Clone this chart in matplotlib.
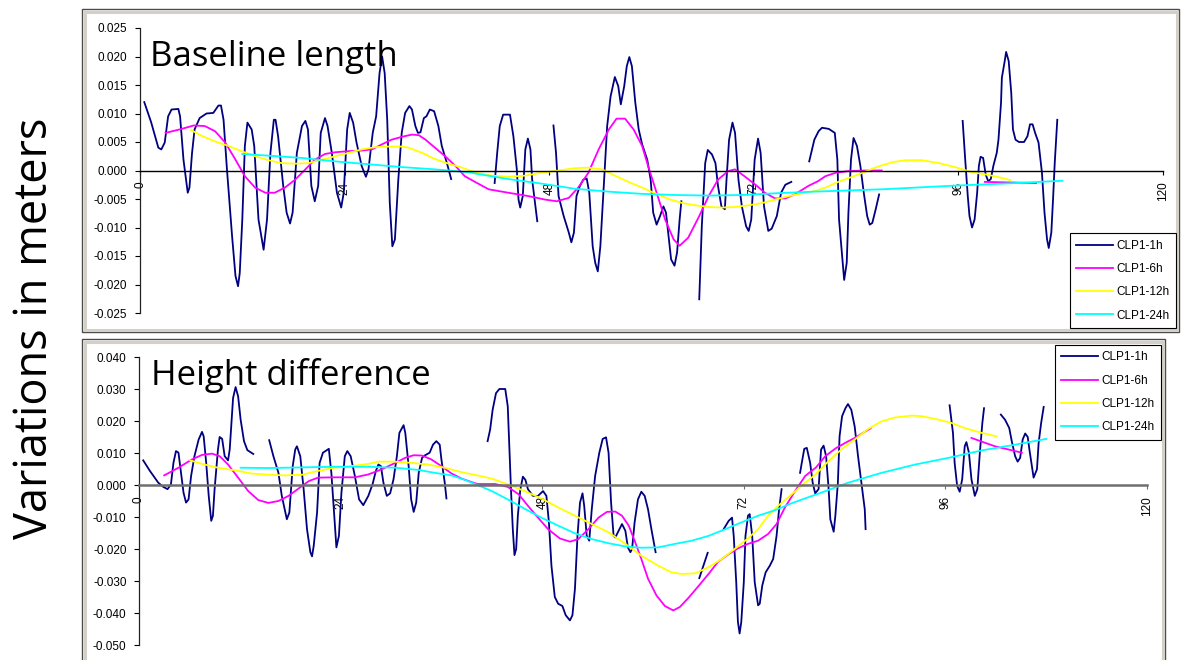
import numpy as np
import matplotlib
matplotlib.use("Agg")
import matplotlib.pyplot as plt
from matplotlib.patches import Rectangle
from matplotlib.ticker import FormatStrFormatter

# ----------------------------------------------------
# settings
# ----------------------------------------------------
W, H = 1182, 660
GAP = (np.nan, np.nan)   # break in a series (no data)

HOUR_TICKS = [0, 24, 48, 72, 96, 120]
SERIES_NAMES = ["CLP1-1h", "CLP1-6h", "CLP1-12h", "CLP1-24h"]
SERIES_COLORS = ["#000080", "#ff00ff", "#ffff00", "#00ffff"]

BL_YTICKS = [-0.025, -0.020, -0.015, -0.010, -0.005, 0.000, 0.005, 0.010, 0.015, 0.020, 0.025]
HD_YTICKS = [-0.050, -0.040, -0.030, -0.020, -0.010, 0.000, 0.010, 0.020, 0.030, 0.040]

# ----------------------------------------------------
# baseline length (hour, metres)
# ----------------------------------------------------
BL_1H = [
    (0.5, .0120), (1.3, .0085), (2.15, .0040), (2.5, .0037), (2.9, .0049), (3.3, .0095), (3.7, .0107),
    (4.5, .0108), (4.7, .0095), (5.1, .0019), (5.6, -.0039), (5.8, -.0030), (6.1, .0030), (6.4, .0072),
    (7.0, .0092), (7.8, .0100), (8.6, .0101), (9.2, .0114), (9.5, .0114), (9.8, .0089), (10.2, .0002),
    (10.8, -.0115), (11.2, -.0185), (11.5, -.0203), (11.7, -.0180), (12.0, -.0086), (12.3, .0043),
    (12.6, .0084), (13.1, .0072), (13.4, .0043), (13.9, -.0086), (14.5, -.0139), (14.9, -.0086),
    (15.3, .0031), (15.7, .0089), (15.9, .0089), (16.2, .0060), (16.8, -.0027), (17.2, -.0074),
    (17.6, -.0093), (17.9, -.0074), (18.4, .0031), (19.0, .0078), (19.4, .0087), (19.7, .0072),
    (20.1, -.0027), (20.5, -.0054), (20.9, -.0027), (21.2, .0066), (21.7, .0092), (22.0, .0078),
    (22.5, .0031), (23.1, -.0039), (23.6, -.0065), (23.9, -.0039), (24.3, .0072), (24.6, .0101),
    (25.0, .0084), (25.4, .0049), (26.0, .0008), (26.5, -.0011), (26.8, .0002), (27.3, .0066),
    (27.7, .0095), (28.1, .0171), (28.4, .0200), (28.7, .0171), (29.0, .0089), (29.3, -.0057),
    (29.6, -.0133), (29.9, -.0121), (30.3, -.0016), (30.7, .0066), (31.1, .0101), (31.6, .0113),
    (31.9, .0107), (32.3, .0078), (32.6, .0066), (32.9, .0067), (33.3, .0092), (33.6, .0095),
    (34.0, .0107), (34.5, .0104), (35.0, .0078), (35.4, .0043), (36.0, .0013), (36.5, -.0015),
    GAP,
    (41.6, -.0022), (41.9, .0031), (42.2, .0078), (42.6, .0098), (43.4, .0098), (43.8, .0060),
    (44.2, .0002), (44.4, -.0051), (44.6, -.0065), (44.9, -.0045), (45.2, .0037), (45.5, .0056),
    (45.8, .0037), (46.0, -.0016), (46.6, -.0089),
    GAP,
    (48.5, .0079), (48.8, .0031), (49.1, -.0045), (49.7, -.0080), (50.3, -.0109), (50.6, -.0126),
    (50.9, -.0109), (51.2, -.0045), (51.6, -.0027), (52.0, -.0016), (52.4, -.0014), (52.7, -.0039),
    (53.1, -.0133), (53.4, -.0162), (53.7, -.0177), (54.0, -.0133), (54.4, -.0027), (54.8, .0078),
    (55.2, .0130), (55.7, .0164), (56.1, .0148), (56.4, .0116), (56.8, .0148), (57.1, .0183),
    (57.4, .0199), (57.7, .0183), (58.1, .0119), (58.5, .0072), (58.9, .0046), (59.5, .0019),
    (59.9, -.0016), (60.2, -.0074), (60.6, -.0095), (61.0, -.0080), (61.4, -.0063), (61.7, -.0074),
    (62.0, -.0115), (62.3, -.0156), (62.7, -.0167), (63.0, -.0144), (63.3, -.0086), (63.5, -.0054),
    GAP,
    (65.6, -.0226), (65.9, -.0098), (66.3, .0013), (66.6, .0036), (67.1, .0028), (67.5, .0013),
    (67.8, -.0027), (68.2, -.0063), (68.6, -.0068), (68.8, -.0016), (69.1, .0054), (69.5, .0084),
    (69.8, .0066), (70.2, -.0016), (70.6, -.0063), (71.1, -.0098), (71.4, -.0106), (71.7, -.0086),
    (72.1, .0019), (72.5, .0056), (72.8, .0031), (73.2, -.0063), (73.7, -.0106), (74.1, -.0102),
    (74.7, -.0080), (75.2, -.0039), (75.7, -.0025), (76.4, -.0020),
    GAP,
    (78.5, .0016), (79.1, .0054), (79.6, .0069), (80.0, .0075), (80.8, .0073), (81.5, .0066),
    (81.8, .0019), (82.0, -.0086), (82.4, -.0156), (82.6, -.0192), (82.9, -.0162), (83.1, -.0074),
    (83.4, .0019), (83.7, .0057), (84.1, .0043), (84.5, .0008), (84.9, -.0039), (85.3, -.0080),
    (85.6, -.0095), (85.9, -.0092), (86.3, -.0068), (86.7, -.0042),
    GAP,
    (96.5, .0087), (96.8, .0019), (97.1, -.0045), (97.3, -.0080), (97.6, -.0100), (97.9, -.0086),
    (98.2, -.0039), (98.4, .0008), (98.6, .0024), (98.9, .0022), (99.2, -.0007), (99.5, -.0019),
    (99.8, -.0015), (100.1, .0008), (100.5, .0031), (100.7, .0054), (101.0, .0119), (101.1, .0163),
    (101.4, .0189), (101.6, .0208), (101.9, .0192), (102.2, .0136), (102.4, .0072), (102.7, .0054),
    (103.1, .0050), (103.7, .0050), (104.1, .0060), (104.4, .0081), (104.7, .0081), (105.0, .0066),
    (105.4, .0049), (105.8, -.0004), (106.1, -.0074), (106.4, -.0121), (106.6, -.0136),
    (106.9, -.0109), (107.1, -.0051), (107.3, .0013), (107.6, .0089),
]

BL_6H = [
    (3.0, .0066), (4.9, .0073), (6.3, .0079), (7.6, .0078), (8.8, .0069), (10.0, .0049), (11.2, .0019),
    (12.3, -.0010), (13.5, -.0030), (14.7, -.0039), (15.8, -.0039), (17.0, -.0030), (18.2, -.0016),
    (19.4, .0002), (20.5, .0019), (21.7, .0029), (22.9, .0032), (24.5, .0034), (26.0, .0035),
    (27.2, .0037), (28.4, .0046), (29.5, .0054), (30.7, .0059), (31.9, .0063), (32.7, .0062),
    (33.5, .0054), (34.6, .0040), (35.8, .0025), (37.0, .0008), (38.1, -.0010), (39.3, -.0020),
    (40.9, -.0033), (43.2, -.0039), (45.6, -.0045), (47.5, -.0051), (48.9, -.0054), (50.3, -.0048),
    (51.4, -.0030), (52.6, -.0004), (53.8, .0037), (55.0, .0072), (55.9, .0091), (56.9, .0091),
    (57.9, .0072), (58.9, .0043), (59.6, .0008), (60.6, -.0039), (61.6, -.0086), (62.6, -.0121),
    (63.3, -.0132), (64.3, -.0118), (65.5, -.0083), (66.7, -.0045), (67.8, -.0016), (69.0, -.0001),
    (69.8, .0002), (70.9, -.0010), (72.2, -.0025), (73.3, -.0039), (74.5, -.0049), (75.7, -.0049),
    (76.8, -.0042), (78.4, -.0027), (79.5, -.0019), (80.4, -.0010), (81.6, -.0004), (83.1, -.0001),
    (85.1, .0000), (87.0, .0000),
    GAP,
    (99.1, -.0020), (105.1, -.0022),
]

BL_12H = [
    (6.0, .0071), (7.2, .0061), (8.8, .0051), (10.4, .0043), (11.9, .0034), (13.5, .0025), (15.1, .0018),
    (16.6, .0013), (18.2, .0012), (19.8, .0013), (21.3, .0019), (22.9, .0025), (24.5, .0031),
    (26.0, .0037), (27.6, .0041), (29.1, .0042), (30.7, .0042), (31.5, .0040), (33.1, .0031),
    (34.6, .0020), (36.2, .0012), (37.8, .0005), (38.9, -.0001), (39.6, -.0004), (41.3, -.0009),
    (43.2, -.0011), (45.2, -.0009), (47.1, -.0004), (49.1, .0000), (51.0, .0004), (52.6, .0005),
    (54.2, .0002), (55.7, -.0009), (57.3, -.0020), (58.9, -.0030), (60.4, -.0040), (62.0, -.0050),
    (63.6, -.0057), (65.1, -.0061), (66.7, -.0064), (68.3, -.0065), (69.8, -.0064), (71.4, -.0061),
    (73.0, -.0057), (74.5, -.0051), (76.1, -.0045), (77.7, -.0040), (79.2, -.0036), (80.4, -.0030),
    (81.9, -.0020), (83.9, -.0009), (85.9, .0003), (87.0, .0009), (88.4, .0015), (89.8, .0018),
    (91.7, .0018), (93.7, .0013), (95.6, .0006), (97.6, -.0003), (99.6, -.0008), (101.1, -.0013),
    (102.1, -.0017),
]

BL_24H = [
    (12.0, .0029), (15.1, .0026), (19.0, .0022), (22.9, .0016), (26.8, .0011), (30.7, .0006),
    (34.6, .0002), (38.5, -.0003), (39.6, -.0006), (43.2, -.0015), (47.1, -.0023), (51.0, -.0032),
    (54.9, -.0037), (58.9, -.0041), (62.8, -.0043), (66.7, -.0044), (70.6, -.0043), (74.5, -.0040),
    (79.2, -.0037), (87.0, -.0033), (94.9, -.0027), (102.7, -.0022), (108.2, -.0018),
]

# ----------------------------------------------------
# height difference (hour, metres)
# ----------------------------------------------------
HD_1H = [
    (0.5, .0077), (1.3, .0044), (2.3, .0007), (2.9, -.0006), (3.4, -.0013), (3.8, .0002), (4.1, .0069),
    (4.4, .0106), (4.7, .0101), (5.0, .0038), (5.3, -.0024), (5.6, -.0055), (5.9, -.0045), (6.2, .0028),
    (6.6, .0090), (7.1, .0142), (7.5, .0166), (7.7, .0152), (8.0, .0069), (8.3, -.0034), (8.6, -.0112),
    (8.8, -.0096), (9.0, -.0013), (9.4, .0111), (9.6, .0150), (9.9, .0144), (10.2, .0090), (10.6, .0077),
    (10.8, .0111), (11.2, .0272), (11.5, .0306), (11.8, .0277), (12.1, .0204), (12.5, .0137),
    (12.9, .0109), (13.6, .0097),
    GAP,
    (15.5, .0140), (16.0, .0090), (16.6, .0038), (17.0, -.0034), (17.6, -.0107), (17.9, -.0086),
    (18.3, .0059), (18.6, .0111), (18.8, .0121), (19.2, .0090), (19.6, -.0013), (20.0, -.0138),
    (20.4, -.0210), (20.6, -.0223), (20.8, -.0190), (21.2, -.0086), (21.5, .0069), (21.9, .0101),
    (22.6, .0113), (22.9, .0038), (23.3, -.0117), (23.5, -.0195), (23.8, -.0159), (24.1, -.0024),
    (24.5, .0090), (24.8, .0106), (25.2, .0090), (25.7, .0028), (26.2, -.0045), (26.7, -.0063),
    (27.3, -.0034), (27.8, .0002), (28.2, .0044), (28.5, .0064), (28.8, .0059), (29.1, .0007),
    (29.5, -.0034), (29.9, -.0026), (30.3, .0018), (30.7, .0090), (31.0, .0163), (31.5, .0187),
    (31.7, .0163), (32.1, .0059), (32.4, -.0045), (32.7, -.0084), (33.0, -.0055), (33.3, .0038),
    (33.7, .0085), (34.0, .0092), (34.6, .0101), (35.0, .0126), (35.4, .0137), (35.8, .0126),
    (36.0, .0080), (36.4, .0007), (36.6, -.0042),
    GAP,
    (41.5, .0137), (41.8, .0173), (42.1, .0235), (42.5, .0287), (42.9, .0300), (43.6, .0300),
    (43.9, .0246), (44.1, .0111), (44.3, -.0024), (44.5, -.0138), (44.7, -.0219), (44.9, -.0200),
    (45.1, -.0096), (45.4, -.0013), (45.7, .0026), (46.0, .0016), (46.3, -.0013), (46.9, -.0034),
    (47.5, -.0034), (48.1, -.0019), (48.5, -.0034), (48.8, -.0117), (49.1, -.0252), (49.5, -.0350),
    (49.9, -.0371), (50.4, -.0378), (50.8, -.0407), (51.3, -.0423), (51.6, -.0407), (51.9, -.0324),
    (52.2, -.0159), (52.5, -.0055), (52.8, -.0026), (53.0, -.0065), (53.3, -.0159), (53.6, -.0174),
    (53.9, -.0076), (54.3, .0028), (54.8, .0101), (55.2, .0144), (55.6, .0149), (55.9, .0101),
    (56.2, -.0055), (56.5, -.0159), (56.7, -.0164), (57.1, -.0143), (57.5, -.0122), (57.9, -.0143),
    (58.2, -.0195), (58.5, -.0210), (58.7, -.0200), (59.0, -.0117), (59.4, -.0045), (59.8, -.0021),
    (60.2, -.0034), (60.6, -.0076), (61.0, -.0138), (61.5, -.0210),
    GAP,
    (66.7, -.0291), (67.7, -.0212),
    GAP,
    (69.6, -.0138), (70.2, -.0112), (70.6, -.0102), (70.8, -.0159), (71.1, -.0304), (71.3, -.0428),
    (71.5, -.0464), (71.7, -.0428), (72.0, -.0304), (72.2, -.0159), (72.5, -.0096), (72.7, -.0091),
    (73.0, -.0159), (73.3, -.0304), (73.7, -.0376), (73.9, -.0371), (74.2, -.0314), (74.6, -.0273),
    (75.1, -.0252), (75.5, -.0231), (75.9, -.0159), (76.2, -.0076), (76.5, -.0013),
    GAP,
    (78.7, .0038), (78.9, .0069), (79.2, .0113), (79.5, .0116), (79.9, .0069), (80.2, .0007),
    (80.5, -.0026), (80.9, -.0013), (81.2, .0111), (81.5, .0123), (81.8, .0090), (82.1, -.0013),
    (82.3, -.0107), (82.7, -.0146), (82.9, -.0096), (83.2, .0007), (83.4, .0152), (83.7, .0215),
    (84.1, .0240), (84.4, .0253), (84.8, .0235), (85.2, .0183), (85.6, .0090), (86.0, .0007),
    (86.4, -.0076), (86.5, -.0138),
    GAP,
    (96.5, .0249), (96.9, .0163), (97.1, .0069), (97.4, -.0003), (97.7, -.0021), (98.0, .0018),
    (98.3, .0121), (98.5, .0134), (98.8, .0101), (99.1, .0018), (99.5, -.0034), (99.8, -.0013),
    (100.1, .0101), (100.4, .0194), (100.6, .0240),
    GAP,
    (102.6, .0220), (103.1, .0204), (103.6, .0178), (103.9, .0137), (104.3, .0090), (104.6, .0073),
    (104.9, .0085), (105.2, .0142), (105.5, .0161), (105.8, .0150), (106.0, .0111), (106.3, .0059),
    (106.5, .0023), (106.9, .0049), (107.1, .0132), (107.4, .0194), (107.7, .0244),
]

HD_6H = [
    (3.0, .0030), (4.7, .0054), (6.3, .0080), (7.5, .0094), (8.7, .0098), (9.6, .0090), (10.6, .0064),
    (11.8, .0023), (13.0, -.0019), (14.2, -.0047), (15.4, -.0056), (16.6, -.0050), (17.8, -.0034),
    (19.0, -.0011), (20.2, .0012), (21.3, .0023), (23.3, .0024), (25.7, .0024), (27.3, .0033),
    (28.9, .0049), (30.5, .0069), (31.7, .0085), (32.7, .0093), (33.7, .0092), (34.8, .0080),
    (36.0, .0059), (37.2, .0036), (38.4, .0020), (39.6, .0009), (40.3, .0003), (42.4, .0003),
    (43.9, -.0006), (45.2, -.0029), (46.3, -.0065), (47.5, -.0102), (48.7, -.0138), (50.1, -.0167),
    (51.3, -.0177), (52.3, -.0169), (53.5, -.0138), (54.7, -.0102), (55.7, -.0084), (56.7, -.0083),
    (57.5, -.0096), (58.3, -.0127), (59.0, -.0174), (59.8, -.0231), (60.6, -.0293), (61.6, -.0345),
    (62.6, -.0378), (63.6, -.0392), (64.4, -.0381), (65.4, -.0353), (66.6, -.0316), (67.8, -.0278),
    (68.9, -.0241), (70.2, -.0216), (71.3, -.0198), (72.5, -.0184), (73.7, -.0174), (74.9, -.0153),
    (75.9, -.0122), (76.9, -.0070), (78.1, -.0019), (79.3, .0028), (80.6, .0055), (81.7, .0090),
    (82.9, .0114), (84.1, .0132), (85.2, .0147), (86.2, .0163), (87.1, .0177),
    GAP,
    (99.1, .0147), (101.9, .0121), (105.1, .0101),
]

HD_12H = [
    (6.1, .0077), (7.5, .0066), (9.4, .0054), (11.4, .0046), (13.4, .0036), (15.4, .0032), (17.4, .0030),
    (19.4, .0032), (21.3, .0044), (23.3, .0054), (25.3, .0059), (27.3, .0066), (28.5, .0073),
    (30.5, .0073), (32.5, .0069), (34.4, .0064), (36.4, .0054), (38.4, .0040), (40.3, .0030),
    (42.0, .0020), (43.9, .0002), (45.9, -.0019), (47.9, -.0042), (49.9, -.0070), (51.9, -.0096),
    (53.9, -.0122), (55.9, -.0148), (57.9, -.0184), (59.8, -.0221), (61.8, -.0252), (63.4, -.0273),
    (64.6, -.0278), (66.2, -.0276), (67.8, -.0257), (69.4, -.0231), (70.9, -.0200), (72.5, -.0167),
    (73.7, -.0138), (74.9, -.0096), (76.1, -.0065), (77.7, -.0029), (79.3, .0007), (80.5, .0032),
    (82.1, .0075), (83.7, .0113), (85.2, .0142), (86.8, .0175), (88.4, .0199), (90.0, .0211),
    (92.0, .0217), (93.2, .0215), (95.2, .0204), (96.7, .0194), (98.3, .0178), (100.3, .0163),
    (102.1, .0152),
]

HD_24H = [
    (12.1, .0054), (15.4, .0053), (19.4, .0055), (23.3, .0057), (27.3, .0057), (30.5, .0054),
    (33.3, .0047), (35.2, .0038), (37.2, .0030), (38.8, .0016), (40.3, .0000), (42.0, -.0019),
    (43.9, -.0045), (45.9, -.0074), (47.9, -.0102), (49.9, -.0127), (51.9, -.0151), (53.9, -.0169),
    (55.9, -.0182), (57.9, -.0192), (59.8, -.0196), (61.8, -.0195), (63.8, -.0184), (65.8, -.0174),
    (67.8, -.0159), (69.8, -.0138), (71.7, -.0117), (73.7, -.0096), (75.7, -.0079), (77.7, -.0057),
    (79.6, -.0039), (80.8, -.0028), (84.4, .0007), (88.4, .0038), (92.4, .0064), (96.4, .0085),
    (100.3, .0108), (104.3, .0126), (108.0, .0144),
]

TICK_FONT = "Liberation Sans"
BIG_FONT = "Open Sans"


def px_rect(x0, y0, x1, y1):
    """pixel box (top-left origin) -> figure fraction [left, bottom, width, height]"""
    return [x0 / W, 1 - y1 / H, (x1 - x0) / W, (y1 - y0) / H]


def draw_frame(fig, x0, y0, x1, y1):
    l, b, w, h = px_rect(x0, y0, x1, y1)
    fig.add_artist(Rectangle((l, b), w, h, transform=fig.transFigure,
                             fill=False, ec="#4a4a4a", lw=1.0, zorder=0))
    l, b, w, h = px_rect(x0 + 2.5, y0 + 2.5, x1 - 2.5, y1 - 2.5)
    fig.add_artist(Rectangle((l, b), w, h, transform=fig.transFigure,
                             fill=False, ec="#d4d0c8", lw=2.2, zorder=0))


def style_axes(ax, ylim, yticks, axis_color, zero_lw):
    ax.set_xlim(0, 120)
    ax.set_ylim(*ylim)
    ax.patch.set_alpha(0)
    for side in ("top", "right"):
        ax.spines[side].set_visible(False)
    ax.spines["bottom"].set_position(("data", 0))
    ax.spines["bottom"].set_color(axis_color)
    ax.spines["bottom"].set_linewidth(zero_lw)
    ax.spines["left"].set_color("#222222")
    ax.spines["left"].set_linewidth(0.9)

    ax.set_xticks(HOUR_TICKS)
    ax.set_xticklabels([str(h) for h in HOUR_TICKS], rotation=90,
                       family=TICK_FONT, fontsize=8.5)
    ax.set_yticks(yticks)
    ax.yaxis.set_major_formatter(FormatStrFormatter("%.3f"))
    for lab in ax.get_yticklabels():
        lab.set_family(TICK_FONT)
        lab.set_fontsize(8.5)
    ax.tick_params(axis="y", direction="out", length=3.5, width=0.8, pad=5.5)
    ax.tick_params(axis="x", direction="out", length=3, width=0.8, pad=5,
                   color=axis_color)


def plot_series(ax, series):
    for data, name, color in zip(series, SERIES_NAMES, SERIES_COLORS):
        xs, ys = np.array(data, dtype=float).T
        ax.plot(xs, ys, color=color, lw=1.3, label=name, solid_joinstyle="round")


fig = plt.figure(figsize=(W / 100, H / 100), dpi=100)
fig.patch.set_facecolor("white")

draw_frame(fig, 82, 9, 1179, 332)
draw_frame(fig, 82, 339, 1165, 668)

# upper panel: baseline length
ax1 = fig.add_axes(px_rect(140, 28, 1163, 313))
style_axes(ax1, (-0.025, 0.025), BL_YTICKS, "black", 1.0)
plot_series(ax1, [BL_1H, BL_6H, BL_12H, BL_24H])
leg1 = ax1.legend(loc="lower right", bbox_to_anchor=(1176 / W, 1 - 328 / H),
                  bbox_transform=fig.transFigure, borderaxespad=0,
                  fancybox=False, edgecolor="black", framealpha=1,
                  prop={"family": TICK_FONT, "size": 8.5},
                  handlelength=3.1, handletextpad=0.3, labelspacing=0.95, borderpad=0.55)
leg1.get_frame().set_linewidth(0.8)

# lower panel: height difference
ax2 = fig.add_axes(px_rect(139, 357, 1147, 645))
style_axes(ax2, (-0.050, 0.040), HD_YTICKS, "#6e6e6e", 1.8)
plot_series(ax2, [HD_1H, HD_6H, HD_12H, HD_24H])
leg2 = ax2.legend(loc="upper right", bbox_to_anchor=(1161 / W, 1 - 345 / H),
                  bbox_transform=fig.transFigure, borderaxespad=0,
                  fancybox=False, edgecolor="black", framealpha=1,
                  prop={"family": TICK_FONT, "size": 8.5},
                  handlelength=3.1, handletextpad=0.3, labelspacing=0.95, borderpad=0.55)
leg2.get_frame().set_linewidth(0.8)

fig.text(150 / W, 1 - 65.7 / H, "Baseline length", family=BIG_FONT, fontsize=25,
         va="baseline", ha="left", zorder=5)
fig.text(150.7 / W, 1 - 385 / H, "Height difference", family=BIG_FONT, fontsize=25,
         va="baseline", ha="left", zorder=5)
fig.text(35.5 / W, 1 - 328 / H, "Variations in meters", family=BIG_FONT, fontsize=32.5,
         rotation=90, va="center", ha="center")

fig.savefig("out.png", dpi=100, facecolor="white")
